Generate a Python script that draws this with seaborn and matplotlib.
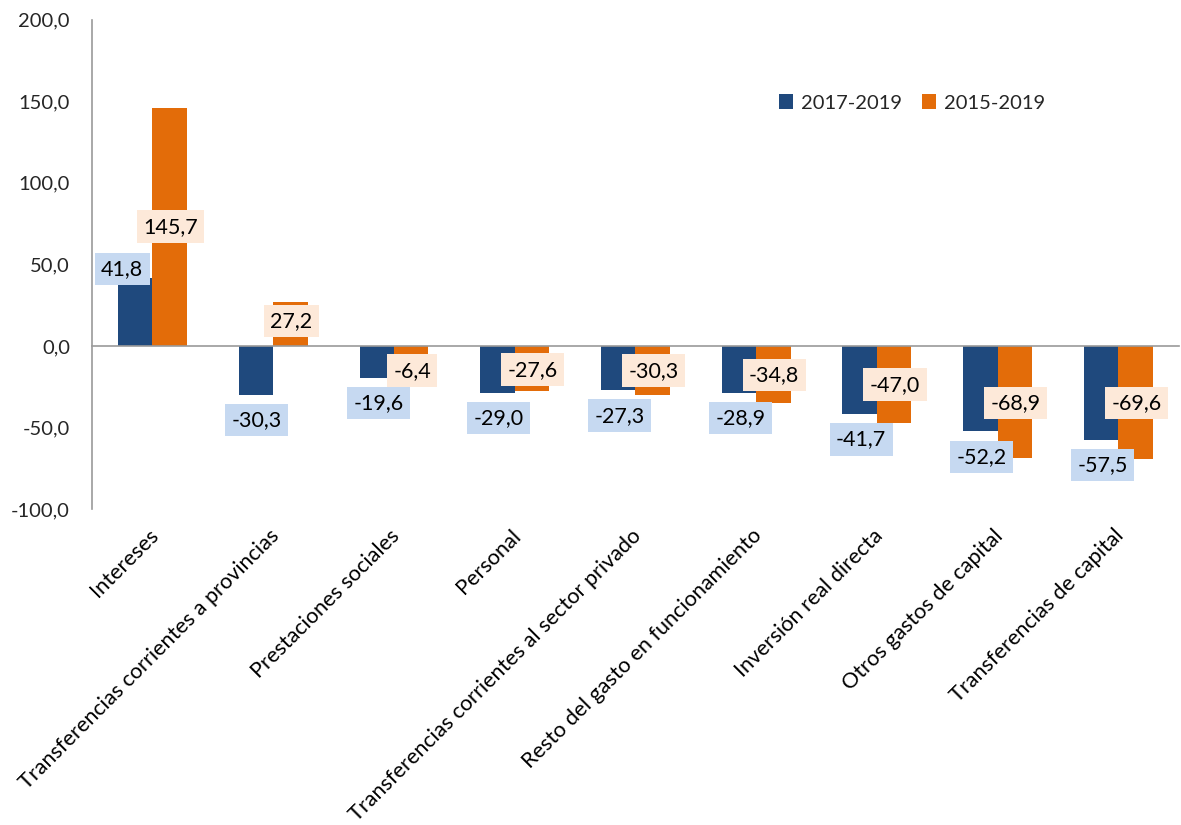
import numpy as np
import pandas as pd
import matplotlib
matplotlib.use("Agg")
import matplotlib.pyplot as plt
import matplotlib.transforms as mtransforms
import seaborn as sns

categorias = ["Intereses", "Transferencias corrientes a provincias", "Prestaciones sociales",
              "Personal", "Transferencias corrientes al sector privado",
              "Resto del gasto en funcionamiento", "Inversión real directa",
              "Otros gastos de capital", "Transferencias de capital"]
periodos = ["2017-2019", "2015-2019"]
v_2017_2019 = [41.8, -30.3, -19.6, -29.0, -27.3, -28.9, -41.7, -52.2, -57.5]
v_2015_2019 = [145.7, 27.2, -6.4, -27.6, -30.3, -34.8, -47.0, -68.9, -69.6]

# donde van las etiquetas (posiciones a ojo del original)
lab_y_2017 = [47.2, -45.4, -35.0, -44.2, -42.9, -44.2, -57.1, -68.1, -73.0]
lab_y_2015 = [73.0, 15.3, -15.3, -14.7, -15.3, -17.8, -23.9, -35.0, -35.0]
lab_dx_2017 = [-0.25, -0.14, -0.13, -0.13, -0.13, -0.13, -0.13, -0.13, -0.13]
lab_dx_2015 = [0.15] * 9

azul = "#1F497D"
naranja = "#E36C09"
caja_azul = "#C6D9F1"
caja_naranja = "#FDE9D9"
gris = "#9A9A9A"

df = pd.DataFrame({
    "categoria": categorias * 2,
    "periodo": [periodos[0]] * len(categorias) + [periodos[1]] * len(categorias),
    "valor": v_2017_2019 + v_2015_2019,
})

sns.set_style("white")
plt.rcParams["font.family"] = ["Lato", "DejaVu Sans"]
fs = 14.5

fig = plt.figure(figsize=(11.81, 8.25), dpi=100)
ax = fig.add_axes([0.078, 0.383, 0.92, 0.593])

sns.barplot(data=df, x="categoria", y="valor", hue="periodo", order=categorias,
            hue_order=periodos, palette=[azul, naranja], width=0.57,
            linewidth=0, saturation=1, ax=ax)

n = len(categorias)
ax.set_xlim(-0.5, n - 0.5)
ax.set_ylim(-100, 200)
ax.set_yticks(np.arange(-100, 201, 50))
ax.set_yticklabels([f"{t:.1f}".replace(".", ",") for t in np.arange(-100, 201, 50)], fontsize=fs)
ax.set_xlabel("")
ax.set_ylabel("")

# marcas del eje x en los limites de cada categoria
ax.set_xticks([])
ax.set_xticks(np.arange(n) + 0.5, minor=True)
ax.tick_params(axis="x", which="minor", length=5, width=1, color=gris,
               direction="out", labelbottom=False)
ax.tick_params(axis="y", length=4, width=1, color=gris, direction="out", pad=12)

for s in ["top", "right"]:
    ax.spines[s].set_visible(False)
ax.spines["bottom"].set_position(("data", 0))
ax.spines["bottom"].set_color(gris)
ax.spines["left"].set_color(gris)
ax.spines["bottom"].set_linewidth(1.2)
ax.spines["left"].set_linewidth(1.2)

# etiquetas de categoria bajo el area del grafico
trans = mtransforms.blended_transform_factory(ax.transData, ax.transAxes) + \
    mtransforms.ScaledTranslation(2 / 72, -17 / 72, fig.dpi_scale_trans)
for p, c in enumerate(categorias):
    ax.text(p, 0, c, transform=trans, rotation=45, ha="right", va="center",
            rotation_mode="anchor", fontsize=15.6, color="black")

for i in range(n):
    ax.text(i + lab_dx_2017[i], lab_y_2017[i], f"{v_2017_2019[i]:.1f}".replace(".", ","),
            ha="center", va="center", fontsize=15.5, color="black",
            bbox=dict(boxstyle="square,pad=0.3", fc=caja_azul, ec="none"))
    ax.text(i + lab_dx_2015[i], lab_y_2015[i], f"{v_2015_2019[i]:.1f}".replace(".", ","),
            ha="center", va="center", fontsize=15.5, color="black",
            bbox=dict(boxstyle="square,pad=0.3", fc=caja_naranja, ec="none"))

ax.legend(loc="center left", bbox_to_anchor=(0.632, 0.83), ncol=2, frameon=False,
          fontsize=fs, handlelength=0.7, handleheight=0.7, handletextpad=0.4,
          columnspacing=1.0, borderaxespad=0, borderpad=0)

fig.savefig("out.png", dpi=100)
